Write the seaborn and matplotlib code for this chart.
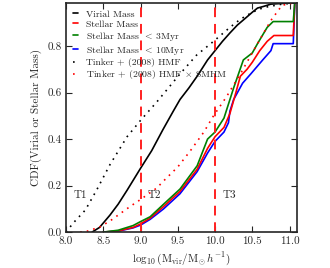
import numpy as np
import pandas as pd
import matplotlib
matplotlib.use("Agg")
import matplotlib.pyplot as plt
import seaborn as sns

# ── Data ────────────────────────────────────────────────────
vir_x = [8.35, 8.45, 8.59, 8.7, 8.82, 9.0, 9.15, 9.3, 9.44, 9.53, 9.65, 9.76,
         9.9, 10.0, 10.1, 10.2, 10.3, 10.41, 10.5, 10.57, 10.65, 10.75, 10.9, 11.08]
vir_y = [0.0, 0.02, 0.073, 0.12, 0.18, 0.274, 0.35, 0.44, 0.52, 0.57, 0.62, 0.67,
         0.74, 0.78, 0.82, 0.856, 0.89, 0.92, 0.945, 0.963, 0.97, 0.98, 0.983, 0.985]

star_x = [8.5, 8.7, 8.9, 9.0, 9.13, 9.31, 9.53, 9.76, 9.9, 10.0, 10.12, 10.2,
          10.28, 10.34, 10.43, 10.5, 10.6, 10.7, 10.79, 11.05, 11.07]
star_y = [0.0, 0.005, 0.02, 0.035, 0.06, 0.11, 0.175, 0.27, 0.36, 0.41, 0.45, 0.51,
          0.6, 0.67, 0.7, 0.73, 0.78, 0.82, 0.845, 0.845, 0.985]

s3_x = [8.5, 8.7, 8.9, 9.0, 9.13, 9.31, 9.53, 9.76, 9.9, 10.0, 10.12, 10.2,
        10.25, 10.38, 10.5, 10.57, 10.7, 10.78, 11.05, 11.07]
s3_y = [0.0, 0.008, 0.028, 0.045, 0.066, 0.12, 0.185, 0.285, 0.4, 0.43, 0.49, 0.57,
        0.62, 0.74, 0.77, 0.81, 0.88, 0.905, 0.905, 0.985]

s10_x = [8.5, 8.7, 8.9, 9.0, 9.13, 9.31, 9.53, 9.76, 9.9, 10.0, 10.12, 10.18,
         10.2, 10.25, 10.37, 10.48, 10.64, 10.75, 10.78, 11.05, 11.07]
s10_y = [0.0, 0.004, 0.018, 0.03, 0.055, 0.1, 0.165, 0.26, 0.34, 0.39, 0.43, 0.47,
         0.52, 0.57, 0.64, 0.68, 0.74, 0.78, 0.81, 0.81, 0.985]

hmf_x = [8.0, 8.1, 8.26, 8.41, 8.59, 8.82, 9.0, 9.22, 9.53, 9.75, 9.98, 10.2,
         10.34, 10.5, 10.65, 10.9, 11.08]
hmf_y = [0.0, 0.04, 0.095, 0.18, 0.29, 0.41, 0.48, 0.56, 0.68, 0.76, 0.82, 0.88,
         0.915, 0.945, 0.965, 0.98, 0.985]

smhm_x = [8.19, 8.3, 8.46, 8.6, 8.73, 8.86, 9.0, 9.22, 9.31, 9.5, 9.67, 9.85,
          9.98, 10.15, 10.34, 10.57, 10.75, 10.9, 11.05]
smhm_y = [0.0, 0.005, 0.023, 0.05, 0.08, 0.11, 0.14, 0.19, 0.22, 0.28, 0.35, 0.43,
          0.5, 0.58, 0.68, 0.81, 0.91, 0.975, 0.985]

thresholds = [9.0, 10.0]
regions = ["T1", "T2", "T3"]
region_x = [8.1, 9.1, 10.1]

# ── Style ───────────────────────────────────────────────────
sns.set_style("ticks")
plt.rcParams["font.family"] = ["cmr10", "DejaVu Serif"]
plt.rcParams["mathtext.fontset"] = "cm"
plt.rcParams["axes.formatter.use_mathtext"] = True
plt.rcParams["font.size"] = 8

fig = plt.figure(figsize=(3.3, 2.68), dpi=100)
ax = fig.add_axes([0.2, 0.134, 0.7, 0.855])

series = [
    (vir_x, vir_y, "black", "-", "Virial Mass"),
    (star_x, star_y, "red", "-", "Stellar Mass"),
    (s3_x, s3_y, "green", "-", r"Stellar Mass $\,<\,$3Myr"),
    (s10_x, s10_y, "blue", "-", r"Stellar Mass $\,<\,$10Myr"),
    (hmf_x, hmf_y, "black", (0, (1, 3)), "Tinker + (2008) HMF"),
    (smhm_x, smhm_y, "red", (0, (1, 3)), r"Tinker + (2008) HMF $\times$ SMHM"),
]
# blue is drawn under red/green in the reference
order = [3, 1, 2, 0, 4, 5]
for i in order:
    xs, ys, c, ls, lab = series[i]
    sns.lineplot(x=xs, y=ys, ax=ax, color=c, linestyle=ls, linewidth=1.2,
                 sort=False, estimator=None, label=lab)

for t in thresholds:
    ax.axvline(t, color="#ff2020", linestyle=(0, (5, 3.5)), linewidth=1.4)

for name, xt in zip(regions, region_x):
    ax.text(xt, 0.16, name, fontsize=8, va="center", ha="left")

ax.set_xlim(8.0, 11.1)
ax.set_ylim(0.0, 0.985)
ax.set_xticks([8.0, 8.5, 9.0, 9.5, 10.0, 10.5, 11.0])
ax.set_yticks([0.0, 0.2, 0.4, 0.6, 0.8])
ax.xaxis.set_major_formatter(matplotlib.ticker.FormatStrFormatter("%.1f"))
ax.yaxis.set_major_formatter(matplotlib.ticker.FormatStrFormatter("%.1f"))
ax.tick_params(direction="in", top=True, right=True, length=4, width=0.8,
               labelsize=8, pad=3)
for sp in ax.spines.values():
    sp.set_linewidth(1.2)

ax.set_xlabel(r"$\log_{10}(\mathrm{M_{vir}/M_{\odot}}\,h^{-1})$", fontsize=8, labelpad=3)
ax.set_ylabel("CDF(Virial or Stellar Mass)", fontsize=8, labelpad=4)

handles, labels = ax.get_legend_handles_labels()
lookup = dict(zip(labels, handles))
want = [s[4] for s in series]
ax.legend([lookup[w] for w in want], want, loc="upper left",
          bbox_to_anchor=(0.0, 1.0), frameon=False, fontsize=7,
          handlelength=0.5, handletextpad=0.9, labelspacing=0.12,
          borderaxespad=0.3)

fig.savefig("out.png", dpi=100)
